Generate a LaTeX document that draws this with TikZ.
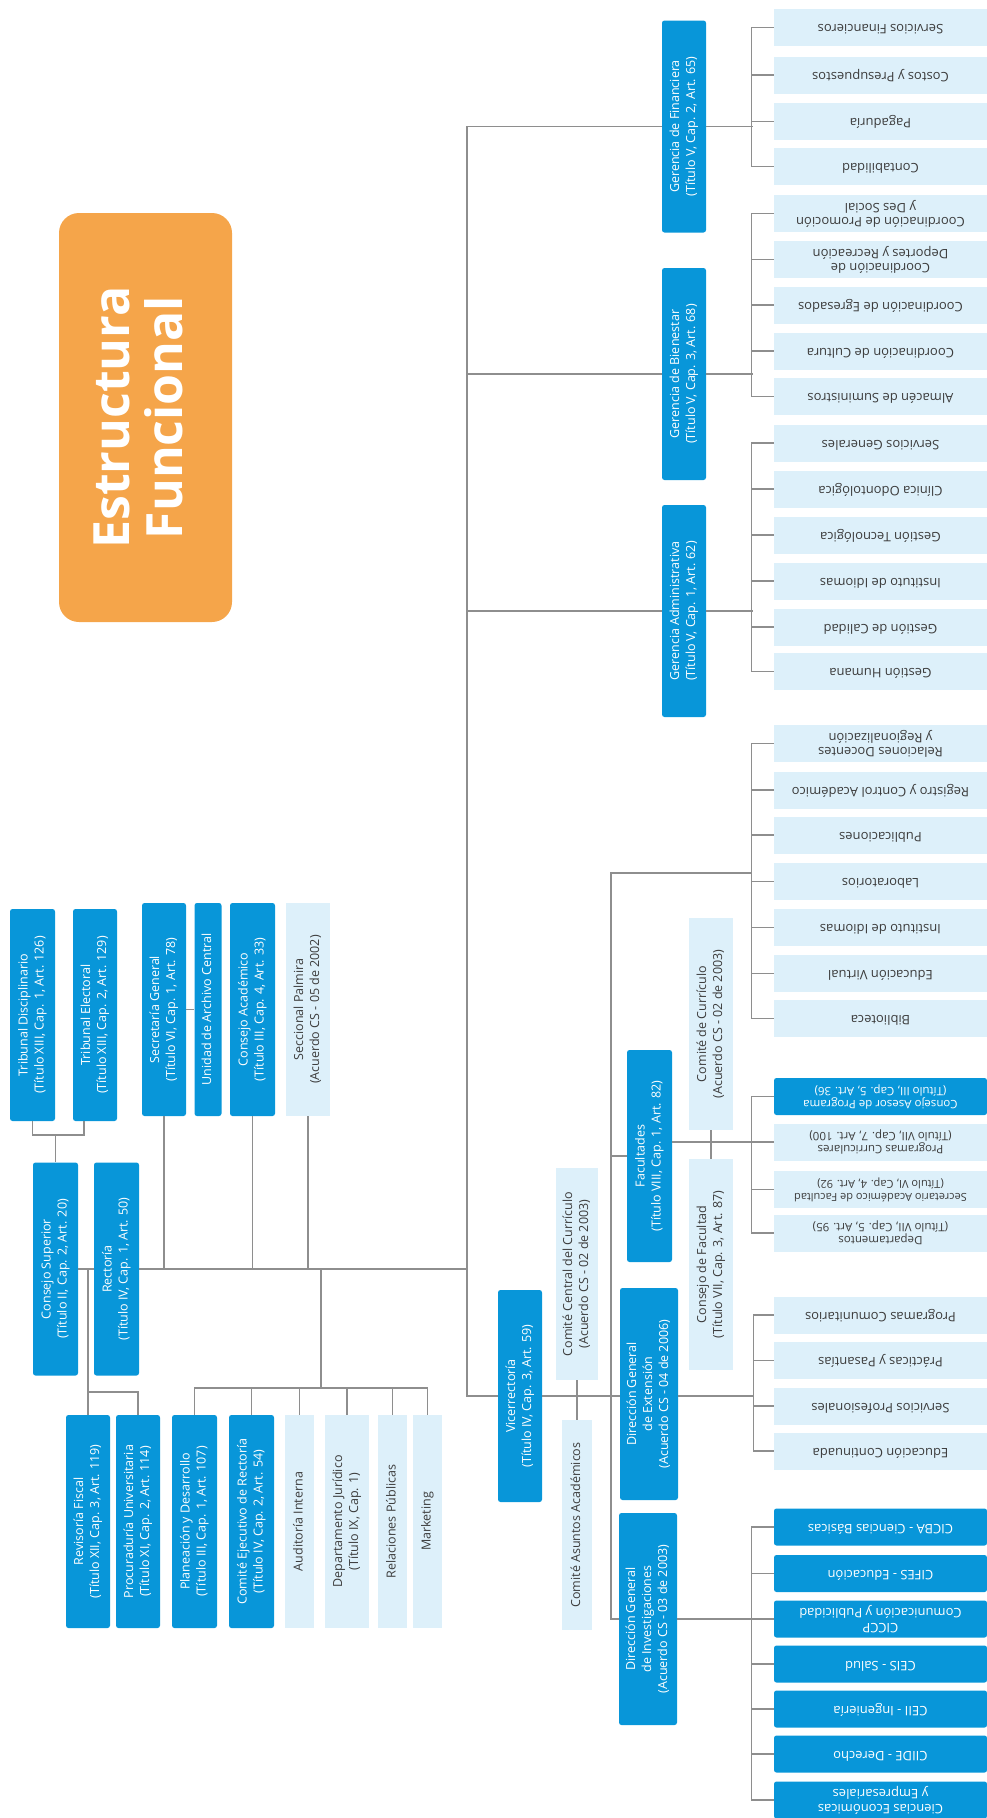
\documentclass[tikz,border=0pt]{standalone}
\usepackage{fontspec}
\setmainfont{Open Sans}
\definecolor{dblue}{HTML}{0896D9}
\definecolor{lblue}{HTML}{DDF0FA}
\definecolor{lgray}{HTML}{8E8E8E}
\definecolor{orng}{HTML}{F5A54A}
\definecolor{dtext}{HTML}{3C3C3C}
\newcommand\bxf{\fontsize{12.5}{16}\selectfont}
\newcommand\lff{\fontsize{13}{14.5}\selectfont}
\newcommand\vtx[1]{\rotatebox{90}{\begin{tabular}{@{}c@{}}#1\end{tabular}}}
\newcommand\utx[1]{\rotatebox{180}{\begin{tabular}{@{}c@{}}#1\end{tabular}}}
\begin{document}
\begin{tikzpicture}[x=1pt,y=-1pt,
 dbox/.style={rectangle, rounded corners=2.5pt, fill=dblue, text=white, inner sep=0pt, font=\bxf},
 lbox/.style={rectangle, fill=lblue, text=dtext, inner sep=0pt, font=\bxf},
 leaf/.style={rectangle, fill=lblue, text=dtext, inner sep=0pt, minimum width=213pt, minimum height=37pt, font=\lff},
 dleaf/.style={leaf, fill=dblue, text=white, rounded corners=2.5pt},
 titlebox/.style={rectangle, rounded corners=20pt, fill=orng, text=white, inner sep=0pt, font=\fontsize{50}{52}\selectfont\bfseries},
 conn/.style={draw=lgray, line width=1.3pt},
 sz/.style 2 args={minimum width=#1pt, minimum height=#2pt}]
\useasboundingbox (0,0) rectangle (987,1818);

% title
\node[titlebox, sz={173}{409}] (tt) at (145.5,417.5) {\vtx{Estructura\\Funcional}};

% left block
\node[dbox, sz={45}{212}] (td) at (32.5,1015) {\vtx{Tribunal Disciplinario\\(Título XIII, Cap. 1, Art. 126)}};
\node[dbox, sz={44}{212}] (te) at (95,1015) {\vtx{Tribunal Electoral\\(Título XIII, Cap. 2, Art. 129)}};
\node[dbox, sz={45}{213}] (cs) at (55.5,1269) {\vtx{Consejo Superior\\(Título II, Cap. 2, Art. 20)}};
\node[dbox, sz={45}{213}] (rc) at (116.5,1269) {\vtx{Rectoría\\(Título IV, Cap. 1, Art. 50)}};
\node[dbox, sz={44}{213}] (sg) at (164,1009.5) {\vtx{Secretaría General\\(Título VI, Cap. 1, Art. 78)}};
\node[dbox, sz={27}{213}] (ua) at (208,1009.5) {\vtx{Unidad de Archivo Central}};
\node[dbox, sz={45}{213}] (ca) at (252.5,1009.5) {\vtx{Consejo Académico\\(Título III, Cap. 4, Art. 33)}};
\node[lbox, sz={44}{213}] (sp) at (308,1009.5) {\vtx{Seccional Palmira\\(Acuerdo CS - 05 de 2002)}};

\node[dbox, sz={44}{213}] (rf) at (88,1521.5) {\vtx{Revisoría Fiscal\\(Título XII, Cap. 3, Art. 119)}};
\node[dbox, sz={44}{213}] (pu) at (138,1521.5) {\vtx{Procuraduría Universitaria\\(Título XI, Cap. 2, Art. 114)}};
\node[dbox, sz={45}{213}] (pd) at (194.5,1521.5) {\vtx{Planeación y Desarrollo\\(Título III, Cap. 1, Art. 107)}};
\node[dbox, sz={45}{213}] (ce) at (251.5,1521.5) {\vtx{Comité Ejecutivo de Rectoría\\(Título IV, Cap. 2, Art. 54)}};
\node[lbox, sz={29}{213}] (ai) at (299.5,1521.5) {\vtx{Auditoría Interna}};
\node[lbox, sz={44}{213}] (dj) at (347,1521.5) {\vtx{Departamento Jurídico\\(Título IX, Cap. 1)}};
\node[lbox, sz={29}{213}] (rp) at (392.5,1521.5) {\vtx{Relaciones Públicas}};
\node[lbox, sz={29}{213}] (mk) at (427.5,1521.5) {\vtx{Marketing}};

% gerencias
\node[dbox, sz={44}{212}] (gf) at (684,126.5) {\vtx{Gerencia de Financiera\\(Título V, Cap. 2, Art. 65)}};
\node[dbox, sz={44}{212}] (gb) at (684,374) {\vtx{Gerencia de Bienestar\\(Título V, Cap. 3, Art. 68)}};
\node[dbox, sz={44}{212}] (ga) at (684,611) {\vtx{Gerencia Administrativa\\(Título V, Cap. 1, Art. 62)}};

% vicerrectoria block
\node[dbox, sz={44}{212}] (vr) at (520,1396) {\vtx{Vicerrectoría\\(Título IV, Cap. 3, Art. 59)}};
\node[lbox, sz={42}{212}] (ccc) at (577,1274) {\vtx{Comité Central del Currículo\\(Acuerdo CS - 02 de 2003)}};
\node[lbox, sz={30}{210}] (caa) at (577,1525) {\vtx{Comité Asuntos Académicos}};
\node[dbox, sz={45}{212}] (fa) at (649.5,1156) {\vtx{Facultades\\(Título VIII, Cap. 1, Art. 82)}};
\node[dbox, sz={58}{212}] (de) at (649,1394) {\vtx{Dirección General\\de Extensión\\(Acuerdo CS - 04 de 2006)}};
\node[dbox, sz={58}{212}] (di) at (648,1619) {\vtx{Dirección General\\de Investigaciones\\(Acuerdo CS - 03 de 2003)}};
\node[lbox, sz={44}{212}] (cc2) at (711,1024) {\vtx{Comité de Currículo\\(Acuerdo CS - 02 de 2003)}};
\node[lbox, sz={44}{211}] (cf) at (711,1264.5) {\vtx{Consejo de Facultad\\(Título VII, Cap. 3, Art. 87)}};

% right leaves
\node[leaf] (f1) at (880.5,27.5) {\utx{Servicios Financieros}};
\node[leaf] (f2) at (880.5,75) {\utx{Costos y Presupuestos}};
\node[leaf] (f3) at (880.5,121.5) {\utx{Pagaduría}};
\node[leaf] (f4) at (880.5,166.5) {\utx{Contabilidad}};
\node[leaf] (b1) at (880.5,213.5) {\utx{Coordinación de Promoción\\y Des Social}};
\node[leaf] (b2) at (880.5,259.5) {\utx{Coordinación de\\Deportes y Recreación}};
\node[leaf] (b3) at (880.5,305) {\utx{Coordinación de Egresados}};
\node[leaf] (b4) at (880.5,351) {\utx{Coordinación de Cultura}};
\node[leaf] (b5) at (880.5,396.5) {\utx{Almacén de Suministros}};
\node[leaf] (g1) at (880.5,443) {\utx{Servicios Generales}};
\node[leaf] (g2) at (880.5,489) {\utx{Clínica Odontológica}};
\node[leaf] (g3) at (880.5,535) {\utx{Gestión Tecnológica}};
\node[leaf] (g4) at (880.5,581) {\utx{Instituto de Idiomas}};
\node[leaf] (g5) at (880.5,627) {\utx{Gestión de Calidad}};
\node[leaf] (g6) at (880.5,671.5) {\utx{Gestión Humana}};
\node[leaf] (a1) at (880.5,743.5) {\utx{Relaciones Docentes\\y Regionalización}};
\node[leaf] (a2) at (880.5,790) {\utx{Registro y Control Académico}};
\node[leaf] (a3) at (880.5,835) {\utx{Publicaciones}};
\node[leaf] (a4) at (880.5,881.5) {\utx{Laboratorios}};
\node[leaf] (a5) at (880.5,927.5) {\utx{Instituto de Idiomas}};
\node[leaf] (a6) at (880.5,973.5) {\utx{Educación Virtual}};
\node[leaf] (a7) at (880.5,1018.5) {\utx{Biblioteca}};
\node[dleaf, font=\fontsize{11.5}{13}\selectfont] (c1) at (880.5,1096.5) {\utx{Consejo Asesor de Programa\\(Título III, Cap. 5, Art. 36)}};
\node[leaf, font=\fontsize{11.5}{13}\selectfont] (c2) at (880.5,1142) {\utx{Programas Curriculares\\(Título VII, Cap. 7, Art. 100)}};
\node[leaf, font=\fontsize{11}{13}\selectfont] (c3) at (880.5,1189.5) {\utx{Secretario Académico de Facultad\\(Título VI, Cap. 4, Art. 92)}};
\node[leaf, font=\fontsize{11.5}{13}\selectfont] (c4) at (880.5,1233) {\utx{Departamentos\\(Título VII, Cap. 5, Art. 95)}};
\node[leaf] (e1) at (880.5,1315) {\utx{Programas Comunitarios}};
\node[leaf] (e2) at (880.5,1360.5) {\utx{Prácticas y Pasantías}};
\node[leaf] (e3) at (880.5,1406) {\utx{Servicios Profesionales}};
\node[leaf] (e4) at (880.5,1451) {\utx{Educación Continuada}};
\node[dleaf] (i1) at (880.5,1527) {\utx{CICBA - Ciencias Básicas}};
\node[dleaf] (i2) at (880.5,1573.5) {\utx{CIFES - Educación}};
\node[dleaf] (i3) at (880.5,1619) {\utx{CICCP\\Comunicación y Publicidad}};
\node[dleaf] (i4) at (880.5,1664) {\utx{CEIS - Salud}};
\node[dleaf] (i5) at (880.5,1709) {\utx{CEII - Ingeniería}};
\node[dleaf] (i6) at (880.5,1754) {\utx{CIIDE - Derecho}};
\node[dleaf] (i7) at (880.5,1800) {\utx{Ciencias Económicas\\y Empresariales}};

% ---------- connectors ----------
% tribunals
\coordinate (jt) at (55.5,1135);
\draw[conn] (td.south) |- (jt) -| ([xshift=-11pt]te.south);
\draw[conn] (jt) -- (cs.north);
% consejo superior - rectoria
\draw[conn] (cs.east) -- (rc.west);
\coordinate (rj) at (88,1269);
\coordinate (rb) at (88,1392);
\draw[conn] (rj) -- (rf.north);
\draw[conn] (rb) -| (pu.north);
% main horizontal and big vertical
\coordinate (vb) at (467,1396);
\draw[conn] (rc.east) -- (rc.east -| vb);
\draw[conn] (sg.south) -- (sg.south |- rj);
\draw[conn] (ca.south) -- (ca.south |- rj);
\draw[conn] (sp.south) -- (sp.south |- rj);
\draw[conn] (sg.east) -- (ua.west);
% planeacion group
\coordinate (pj) at (321,1269);
\coordinate (pb) at (321,1388);
\draw[conn] (pj) -- (pb);
\draw[conn] (pd.north) |- (pb) -| (mk.north);
\foreach \n in {ce,ai,dj,rp} \draw[conn] (\n.north) -- (\n.north |- pb);
% big vertical
\draw[conn] (gf.west) -| (vb) -- (vr.west);
\draw[conn] (gb.west) -- (gb.west -| vb);
\draw[conn] (ga.west) -- (ga.west -| vb);
% vicerrectoria line
\draw[conn] (vr.east) -- (de.west |- vr.east);
\draw[conn] (ccc.south) -- (caa.north);
\coordinate (vtop) at (611,873);
\coordinate (ab) at (752,873);
\draw[conn] (di.west) -| (vtop) -- (ab);
\draw[conn] (fa.west) -- (fa.west -| vtop);
% gerencia brackets
\foreach \a/\b/\g in {f1/f4/gf, b1/b5/gb, g1/g6/ga} {
  \draw[conn] (\a.west) -- ++(-22,0) |- (\b.west);
  \draw[conn] (\g.east) -- ++(47,0);
}
\foreach \n in {f2,f3,b2,b3,b4,g2,g3,g4,g5} \draw[conn] (\n.west) -- ++(-22,0);
% academic group
\draw[conn] (a1.west) -- ++(-22,0) |- (a7.west);
\foreach \n in {a2,a3,a4,a5,a6} \draw[conn] (\n.west) -- ++(-22,0);
% facultades
\draw[conn] (c1.west) -- ++(-22,0) |- (c4.west);
\draw[conn] (c3.west) -- ++(-22,0);
\draw[conn] ([yshift=14pt]fa.east) -- (c2.west);
\draw[conn] (cc2.south) -- (cf.north);
% extension
\draw[conn] (e1.west) -- ++(-20,0) |- (e4.west);
\foreach \n in {e2,e3} \draw[conn] (\n.west) -- ++(-20,0);
\draw[conn] ([yshift=-2pt]de.east) -- ++(76,0);
% investigacion
\draw[conn] (i1.west) -- ++(-22,0) |- (i7.west);
\foreach \n in {i2,i4,i5,i6} \draw[conn] (\n.west) -- ++(-22,0);
\draw[conn] (di.east) -- (i3.west);
\end{tikzpicture}
\end{document}
